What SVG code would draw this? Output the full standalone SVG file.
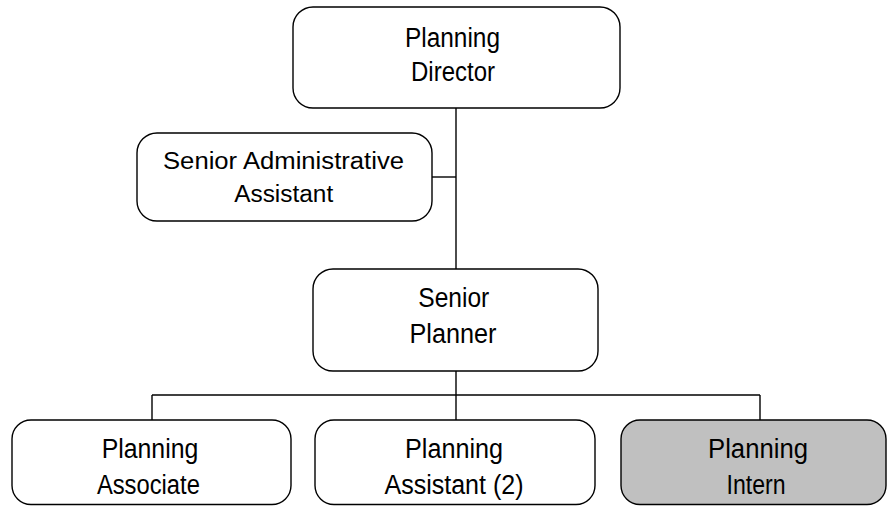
<svg xmlns="http://www.w3.org/2000/svg" width="888" height="506" viewBox="0 0 888 506">
  <style>
    .box { fill: #ffffff; stroke: #000000; stroke-width: 1.4; }
    .gray { fill: #c0c0c0; }
    .lbl { font-family: "Liberation Sans", Arial, sans-serif; font-size: 27px; fill: #000000; text-anchor: middle; }
    .sm { font-size: 23px; }
    .conn { stroke: #000000; stroke-width: 1.4; fill: none; }
  </style>
  <rect width="888" height="506" fill="#ffffff"/>
  <g id="connectors">
    <line class="conn" x1="456" y1="108" x2="456" y2="269"/>
    <line class="conn" x1="432" y1="177" x2="456" y2="177"/>
    <line class="conn" x1="456" y1="371" x2="456" y2="420"/>
    <line class="conn" x1="152" y1="395" x2="760" y2="395"/>
    <line class="conn" x1="152" y1="395" x2="152" y2="420"/>
    <line class="conn" x1="760" y1="395" x2="760" y2="420"/>
  </g>
  <g id="planning-director">
    <rect class="box" x="293" y="7" width="327" height="101" rx="20" ry="20"/>
    <text class="lbl" x="452.5" y="47" textLength="95" lengthAdjust="spacingAndGlyphs">Planning</text>
    <text class="lbl" x="453" y="81" textLength="84" lengthAdjust="spacingAndGlyphs">Director</text>
  </g>
  <g id="senior-administrative-assistant">
    <rect class="box" x="137" y="133" width="295" height="88" rx="20" ry="20"/>
    <text class="lbl sm" x="283.5" y="169" textLength="241" lengthAdjust="spacingAndGlyphs">Senior Administrative</text>
    <text class="lbl sm" x="283.7" y="202" textLength="99" lengthAdjust="spacingAndGlyphs">Assistant</text>
  </g>
  <g id="senior-planner">
    <rect class="box" x="313" y="269" width="285" height="102" rx="20" ry="20"/>
    <text class="lbl" x="453.8" y="307" textLength="71" lengthAdjust="spacingAndGlyphs">Senior</text>
    <text class="lbl" x="453" y="343" textLength="87" lengthAdjust="spacingAndGlyphs">Planner</text>
  </g>
  <g id="planning-associate">
    <rect class="box" x="12" y="420" width="279" height="84.5" rx="19" ry="19"/>
    <text class="lbl" x="150" y="458" textLength="96.7" lengthAdjust="spacingAndGlyphs">Planning</text>
    <text class="lbl" x="148.4" y="493.5" textLength="103" lengthAdjust="spacingAndGlyphs">Associate</text>
  </g>
  <g id="planning-assistant">
    <rect class="box" x="315" y="420" width="280" height="84.5" rx="19" ry="19"/>
    <text class="lbl" x="454" y="458" textLength="98" lengthAdjust="spacingAndGlyphs">Planning</text>
    <text class="lbl" x="454" y="493.5" textLength="139" lengthAdjust="spacingAndGlyphs">Assistant (2)</text>
  </g>
  <g id="planning-intern">
    <rect class="box gray" x="621" y="420" width="265" height="84.5" rx="19" ry="19"/>
    <text class="lbl" x="758" y="458" textLength="100" lengthAdjust="spacingAndGlyphs">Planning</text>
    <text class="lbl" x="756" y="493.5" textLength="59" lengthAdjust="spacingAndGlyphs">Intern</text>
  </g>
</svg>
